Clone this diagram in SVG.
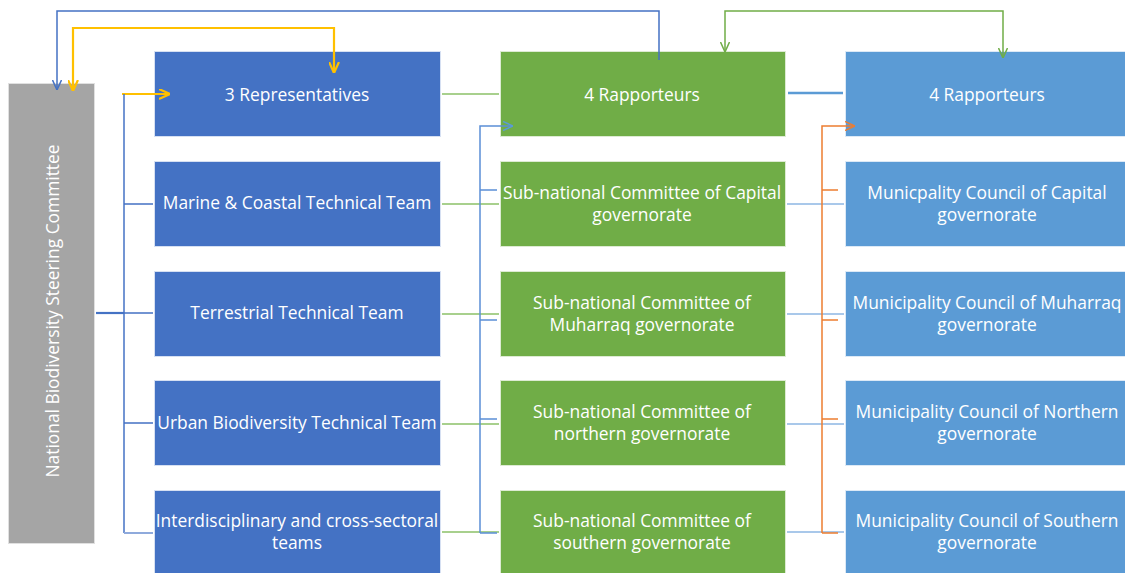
<svg xmlns="http://www.w3.org/2000/svg" width="1125" height="573" viewBox="0 0 1125 573">
<style>
.t{font-family:"Open Sans","Noto Sans","Liberation Sans",sans-serif;font-size:17.4px;fill:#fff;text-anchor:middle;dominant-baseline:central}
.b1{fill:#4472C4;stroke:#D6E0F2;stroke-width:1}
.b2{fill:#70AD47;stroke:#DDEBD3;stroke-width:1}
.b3{fill:#5B9BD5;stroke:#DCE9F6;stroke-width:1}
.g{fill:#A5A5A5;stroke:#E0E0E0;stroke-width:1}
.c{fill:none}
</style>
<defs>
<marker id="mBlue" viewBox="0 0 10 10" refX="10" refY="5" markerWidth="10" markerHeight="10" markerUnits="userSpaceOnUse" orient="auto-start-reverse"><path d="M0,0.5 L10,5 L0,9.5" fill="none" stroke="#4472C4" stroke-width="1.5"/></marker>
<marker id="mYel" viewBox="0 0 10 10" refX="10" refY="5" markerWidth="11" markerHeight="11" markerUnits="userSpaceOnUse" orient="auto-start-reverse"><path d="M0,0.5 L10,5 L0,9.5" fill="none" stroke="#FFC000" stroke-width="2"/></marker>
<marker id="mGreen" viewBox="0 0 10 10" refX="10" refY="5" markerWidth="10" markerHeight="10" markerUnits="userSpaceOnUse" orient="auto-start-reverse"><path d="M0,0.5 L10,5 L0,9.5" fill="none" stroke="#70AD47" stroke-width="1.5"/></marker>
<marker id="mLB" viewBox="0 0 10 10" refX="10" refY="5" markerWidth="10" markerHeight="10" markerUnits="userSpaceOnUse" orient="auto-start-reverse"><path d="M0,0.5 L10,5 L0,9.5" fill="none" stroke="#5B9BD5" stroke-width="1.5"/></marker>
<marker id="mOr" viewBox="0 0 10 10" refX="10" refY="5" markerWidth="10" markerHeight="10" markerUnits="userSpaceOnUse" orient="auto-start-reverse"><path d="M0,0.5 L10,5 L0,9.5" fill="none" stroke="#ED7D31" stroke-width="1.5"/></marker>
</defs>
<rect width="1125" height="573" fill="#fff"/>

<g id="n-national">
  <rect class="g" x="8.5" y="83.5" width="86" height="460"/>
  <text class="t" transform="translate(52,311) rotate(-90)">National Biodiversity Steering Committee</text>
</g>

<g id="n-rep3">
  <rect class="b1" x="154.5" y="51.5" width="286" height="85"/>
  <text class="t" x="297" y="94">3 Representatives</text>
</g>
<g id="n-marine">
  <rect class="b1" x="154.5" y="161.5" width="286" height="85"/>
  <text class="t" x="297" y="202">Marine &amp; Coastal Technical Team</text>
</g>
<g id="n-terrestrial">
  <rect class="b1" x="154.5" y="271.5" width="286" height="85"/>
  <text class="t" x="297" y="312">Terrestrial Technical Team</text>
</g>
<g id="n-urban">
  <rect class="b1" x="154.5" y="380.5" width="286" height="85"/>
  <text class="t" x="297" y="422">Urban Biodiversity Technical Team</text>
</g>
<g id="n-inter">
  <rect class="b1" x="154.5" y="490.5" width="286" height="85"/>
  <text class="t" x="297" y="520">Interdisciplinary and cross-sectoral</text>
  <text class="t" x="297" y="542">teams</text>
</g>

<g id="n-rap4a">
  <rect class="b2" x="500.5" y="51.5" width="285" height="85"/>
  <text class="t" x="642" y="94">4 Rapporteurs</text>
</g>
<g id="n-sub-capital">
  <rect class="b2" x="500.5" y="161.5" width="285" height="85"/>
  <text class="t" x="642" y="192">Sub-national Committee of Capital</text>
  <text class="t" x="642" y="214">governorate</text>
</g>
<g id="n-sub-muharraq">
  <rect class="b2" x="500.5" y="271.5" width="285" height="85"/>
  <text class="t" x="642" y="302">Sub-national Committee of</text>
  <text class="t" x="642" y="324">Muharraq governorate</text>
</g>
<g id="n-sub-northern">
  <rect class="b2" x="500.5" y="380.5" width="285" height="85"/>
  <text class="t" x="642" y="411">Sub-national Committee of</text>
  <text class="t" x="642" y="433">northern governorate</text>
</g>
<g id="n-sub-southern">
  <rect class="b2" x="500.5" y="490.5" width="285" height="85"/>
  <text class="t" x="642" y="520">Sub-national Committee of</text>
  <text class="t" x="642" y="542">southern governorate</text>
</g>

<g id="n-rap4b">
  <rect class="b3" x="845.5" y="51.5" width="285" height="85"/>
  <text class="t" x="987" y="94">4 Rapporteurs</text>
</g>
<g id="n-mun-capital">
  <rect class="b3" x="845.5" y="161.5" width="285" height="85"/>
  <text class="t" x="987" y="192">Municpality Council of Capital</text>
  <text class="t" x="987" y="214">governorate</text>
</g>
<g id="n-mun-muharraq">
  <rect class="b3" x="845.5" y="271.5" width="285" height="85"/>
  <text class="t" x="987" y="302">Municipality Council of Muharraq</text>
  <text class="t" x="987" y="324">governorate</text>
</g>
<g id="n-mun-northern">
  <rect class="b3" x="845.5" y="380.5" width="285" height="85"/>
  <text class="t" x="987" y="411">Municipality Council of Northern</text>
  <text class="t" x="987" y="433">governorate</text>
</g>
<g id="n-mun-southern">
  <rect class="b3" x="845.5" y="490.5" width="285" height="85"/>
  <text class="t" x="987" y="520">Municipality Council of Southern</text>
  <text class="t" x="987" y="542">governorate</text>
</g>

<g id="connectors">
  <!-- top loops -->
  <path class="c" d="M659,60 V11 H57 V90" stroke="#4472C4" stroke-width="1.5" marker-end="url(#mBlue)"/>
  <path class="c" d="M73,91 V28 H334 V73" stroke="#FFC000" stroke-width="2.2" marker-start="url(#mYel)" marker-end="url(#mYel)"/>
  <path class="c" d="M725,52 V11 H1003 V58" stroke="#70AD47" stroke-width="1.5" marker-start="url(#mGreen)" marker-end="url(#mGreen)"/>
  <!-- left bracket -->
  <path class="c" d="M122,94 H170" stroke="#FFC000" stroke-width="2" marker-end="url(#mYel)"/>
  <path class="c" d="M96,313 H124" stroke="#4472C4" stroke-width="2.2"/>
  <path class="c" d="M124,94 V533" stroke="#4472C4" stroke-width="1.5"/>
  <path class="c" d="M124,204 H153 M124,313 H153 M124,423 H153" stroke="#4472C4" stroke-width="1.5"/>
  <path class="c" d="M124,533 H153" stroke="#8FAADC" stroke-width="2"/>
  <!-- blue to green -->
  <path class="c" d="M442,94 H499 M442,204 H499 M442,314 H499 M442,424 H499 M442,532 H499" stroke="#8CC168" stroke-width="1.5"/>
  <!-- middle bracket -->
  <path class="c" d="M480,533 V126 H513" stroke="#5B8ED6" stroke-width="1.5" marker-end="url(#mLB)"/>
  <path class="c" d="M480,190 H497 M480,320 H497 M480,419 H497 M480,533 H497" stroke="#5B8ED6" stroke-width="1.5"/>
  <!-- green to right -->
  <path class="c" d="M788,93 H843" stroke="#5B9BD5" stroke-width="2.5"/>
  <path class="c" d="M787,204 H844 M787,314 H844 M787,424 H844 M787,532 H844" stroke="#8DB6E3" stroke-width="1.5"/>
  <!-- right bracket -->
  <path class="c" d="M822,533 V126 H855" stroke="#ED7D31" stroke-width="1.5" marker-end="url(#mOr)"/>
  <path class="c" d="M822,190 H838 M822,320 H838 M822,419 H838 M822,533 H838" stroke="#ED7D31" stroke-width="1.5"/>
</g>
</svg>
